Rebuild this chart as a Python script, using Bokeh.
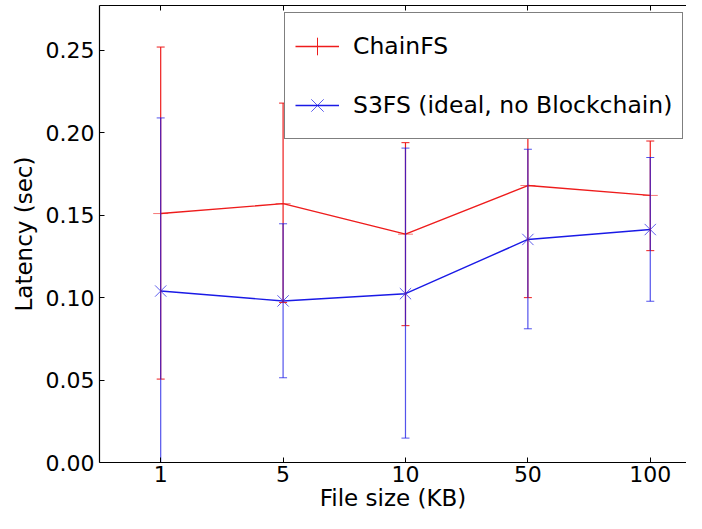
from bokeh.plotting import figure
from bokeh.models import (ColumnDataSource, Whisker, TeeHead, FixedTicker, LinearAxis,
                          Range1d, Legend, LegendItem, PrintfTickFormatter)
from bokeh.embed import file_html
from bokeh.resources import INLINE

# ---- data ----
file_sizes = ["1", "5", "10", "50", "100"]
chainfs_mean = [0.151, 0.157, 0.1385, 0.168, 0.162]
chainfs_upper = [0.252, 0.218, 0.194, 0.236, 0.195]
chainfs_lower = [0.0506, 0.097, 0.083, 0.100, 0.1285]
s3fs_mean = [0.104, 0.098, 0.1024, 0.1353, 0.1413]
s3fs_upper = [0.209, 0.1448, 0.1907, 0.190, 0.185]
s3fs_lower = [0.0, 0.0514, 0.0148, 0.0811, 0.0978]
y_ticks = [0.00, 0.05, 0.10, 0.15, 0.20, 0.25]
series_names = ["ChainFS", "S3FS (ideal, no Blockchain)"]

FONT = "DejaVu Sans"
RED = "#ee1c1c"
BLUE = "#1a1ae6"

xs = list(range(len(file_sizes)))
src_c = ColumnDataSource(dict(x=xs, y=chainfs_mean, upper=chainfs_upper, lower=chainfs_lower))
src_s = ColumnDataSource(dict(x=xs, y=s3fs_mean, upper=s3fs_upper, lower=s3fs_lower))

p = figure(width=686, height=513, output_backend="svg", toolbar_location=None,
           x_range=Range1d(-0.5, 4.296), y_range=Range1d(0, 0.2772),
           min_border_left=99, min_border_right=0, min_border_top=5, min_border_bottom=0)
p.xgrid.visible = False
p.ygrid.visible = False
p.outline_line_color = None
p.background_fill_color = "white"
p.border_fill_color = "white"

# axes
p.xaxis.ticker = FixedTicker(ticks=xs)
p.xaxis.major_label_overrides = {i: s for i, s in enumerate(file_sizes)}
p.yaxis.ticker = FixedTicker(ticks=y_ticks)
p.yaxis.formatter = PrintfTickFormatter(format="%.2f")
for ax in (p.xaxis[0], p.yaxis[0]):
    ax.major_tick_in = 5
    ax.major_tick_out = 0
    ax.minor_tick_line_color = None
    ax.axis_line_color = "black"
    ax.axis_line_width = 1.2
    ax.major_tick_line_color = "black"
    ax.major_label_text_font = FONT
    ax.major_label_text_font_size = "22px"
    ax.major_label_text_color = "black"
    ax.axis_label_text_font = FONT
    ax.axis_label_text_font_size = "23px"
    ax.axis_label_text_font_style = "normal"
    ax.axis_label_text_color = "black"
p.xaxis.axis_label = "File size (KB)"
p.yaxis.axis_label = "Latency (sec)"
p.xaxis.major_label_standoff = 3
p.xaxis.axis_label_standoff = 0
p.yaxis.major_label_standoff = 5
p.yaxis.axis_label_standoff = 6

top = LinearAxis(ticker=FixedTicker(ticks=xs), major_tick_in=5, major_tick_out=0,
                 minor_tick_line_color=None, major_label_text_color=None,
                 major_label_standoff=0, axis_line_color="black", axis_line_width=1.2)
p.add_layout(top, "above")

# ChainFS
r_line_c = p.line("x", "y", source=src_c, line_color=RED, line_width=1.4)
p.scatter("x", "y", source=src_c, marker="dash", size=15, line_color=RED, line_alpha=0.6, line_width=1)
wc = Whisker(base="x", upper="upper", lower="lower", source=src_c, line_color=RED, line_width=1.2,
             upper_head=TeeHead(size=8, line_color=RED, line_width=1),
             lower_head=TeeHead(size=8, line_color=RED, line_width=1), level="glyph")
p.add_layout(wc)

# S3FS
r_line_s = p.line("x", "y", source=src_s, line_color=BLUE, line_width=1.4)
r_x_s = p.scatter("x", "y", source=src_s, marker="x", size=16, line_color=BLUE, line_alpha=0.7, line_width=1)
ws = Whisker(base="x", upper="upper", lower="lower", source=src_s, line_color=BLUE, line_width=1.2,
             line_alpha=0.75,
             upper_head=TeeHead(size=8, line_color=BLUE, line_width=1, line_alpha=0.75),
             lower_head=TeeHead(size=8, line_color=BLUE, line_width=1, line_alpha=0.75), level="glyph")
p.add_layout(ws)

# legend-only marker for the ChainFS error-bar look (not drawn in the plot: y is NaN)
r_leg_c = p.scatter(x=[0], y=[float("nan")], marker="cross", line_color=RED, line_width=1)

legend = Legend(items=[LegendItem(label=series_names[0], renderers=[r_line_c, r_leg_c]),
                       LegendItem(label=series_names[1], renderers=[r_line_s, r_x_s])],
                location=(185, 323), padding=10, spacing=13, glyph_height=46, glyph_width=44,
                label_standoff=14, margin=0, border_line_color="black", border_line_width=1,
                background_fill_alpha=1, background_fill_color="white",
                label_text_font=FONT, label_text_font_size="23.5px", label_text_color="black")
p.add_layout(legend, "center")

open("out.html", "w").write(file_html(p, INLINE))
